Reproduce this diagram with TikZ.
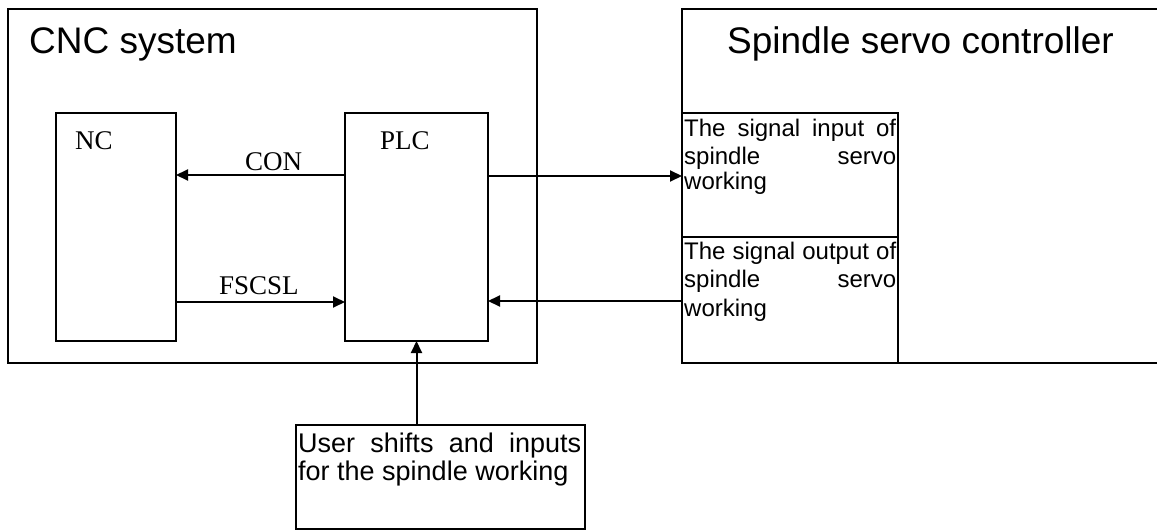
\documentclass[tikz,border=0pt]{standalone}
\usepackage{fontspec}
\setmainfont{Liberation Sans}
\newfontfamily\serifl{Liberation Serif}
\usetikzlibrary{arrows.meta}
\tikzset{
  box/.style={draw=black, line width=2pt, rectangle, inner sep=0pt, outer sep=0pt, fill=none},
  arr/.style={draw=black, line width=2pt, -{Triangle[length=12pt,width=11pt]}},
  title/.style={anchor=base west, inner sep=0pt, font=\fontsize{37pt}{44pt}\selectfont},
  slab/.style={anchor=base west, inner sep=0pt, font=\serifl\fontsize{27pt}{32pt}\selectfont},
  small/.style={anchor=base west, inner sep=0pt, font=\fontsize{24pt}{29pt}\selectfont},
  usertxt/.style={anchor=base west, inner sep=0pt, font=\fontsize{27pt}{28pt}\selectfont}
}
\begin{document}
\begin{tikzpicture}[x=1pt,y=-1pt]
\useasboundingbox (0,0) rectangle (1157,530);
\clip (0,0) rectangle (1157,530);
\fill[white] (0,0) rectangle (1157,530);
% outer boxes
\node[box, minimum width=529pt, minimum height=354pt] (cnc) at (272.5,186) {};
\node[box, minimum width=480pt, minimum height=354pt] (ssc) at (922,186) {};
% inner boxes
\node[box, minimum width=120pt, minimum height=228pt] (nc) at (116,227) {};
\node[box, minimum width=143pt, minimum height=228pt] (plc) at (416.5,227) {};
\node[box, minimum width=216pt, minimum height=124pt] (sin) at (790,175) {};
\node[box, minimum width=216pt, minimum height=126pt] (sout) at (790,300) {};
\node[box, minimum width=289pt, minimum height=104pt] (user) at (440.5,477) {};
% titles
\node[title] (tcnc) at (29,53) {CNC system};
\node[title] (tssc) at (727,53) {Spindle servo controller};
\node[slab] (tnc) at (75,149) {NC};
\node[slab] (tplc) at (380,149) {PLC};
% signal boxes text
\node[small] (tsin1) at (684,136) {\makebox[212pt][s]{The signal input of}};
\node[small] (tsin2) at (684,164) {\makebox[212pt][s]{spindle servo}};
\node[small] (tsin3) at (684,189) {working};
\node[small] (tsout1) at (684,259) {\makebox[212pt][s]{The signal output of}};
\node[small] (tsout2) at (684,287) {\makebox[212pt][s]{spindle servo}};
\node[small] (tsout3) at (684,316) {working};
\node[usertxt] (tuser1) at (298,452) {\makebox[283pt][s]{User shifts and inputs}};
\node[usertxt] (tuser2) at (298,480) {for the spindle working};
% connectors
\coordinate (ycon) at (0,175);
\coordinate (yfs) at (0,302);
\coordinate (yin) at (0,176);
\coordinate (yout) at (0,301);
\draw[arr] (plc.west |- ycon) -- (nc.east |- ycon);
\draw[arr] (nc.east |- yfs) -- (plc.west |- yfs);
\draw[arr] (plc.east |- yin) -- (sin.west |- yin);
\draw[arr] (sout.west |- yout) -- (plc.east |- yout);
\draw[arr] (user.north -| plc.south) -- (plc.south);
% connector labels
\node[slab] (lcon) at (245,170) {CON};
\node[slab] (lfs) at (219,294) {FSCSL};
\end{tikzpicture}
\end{document}
